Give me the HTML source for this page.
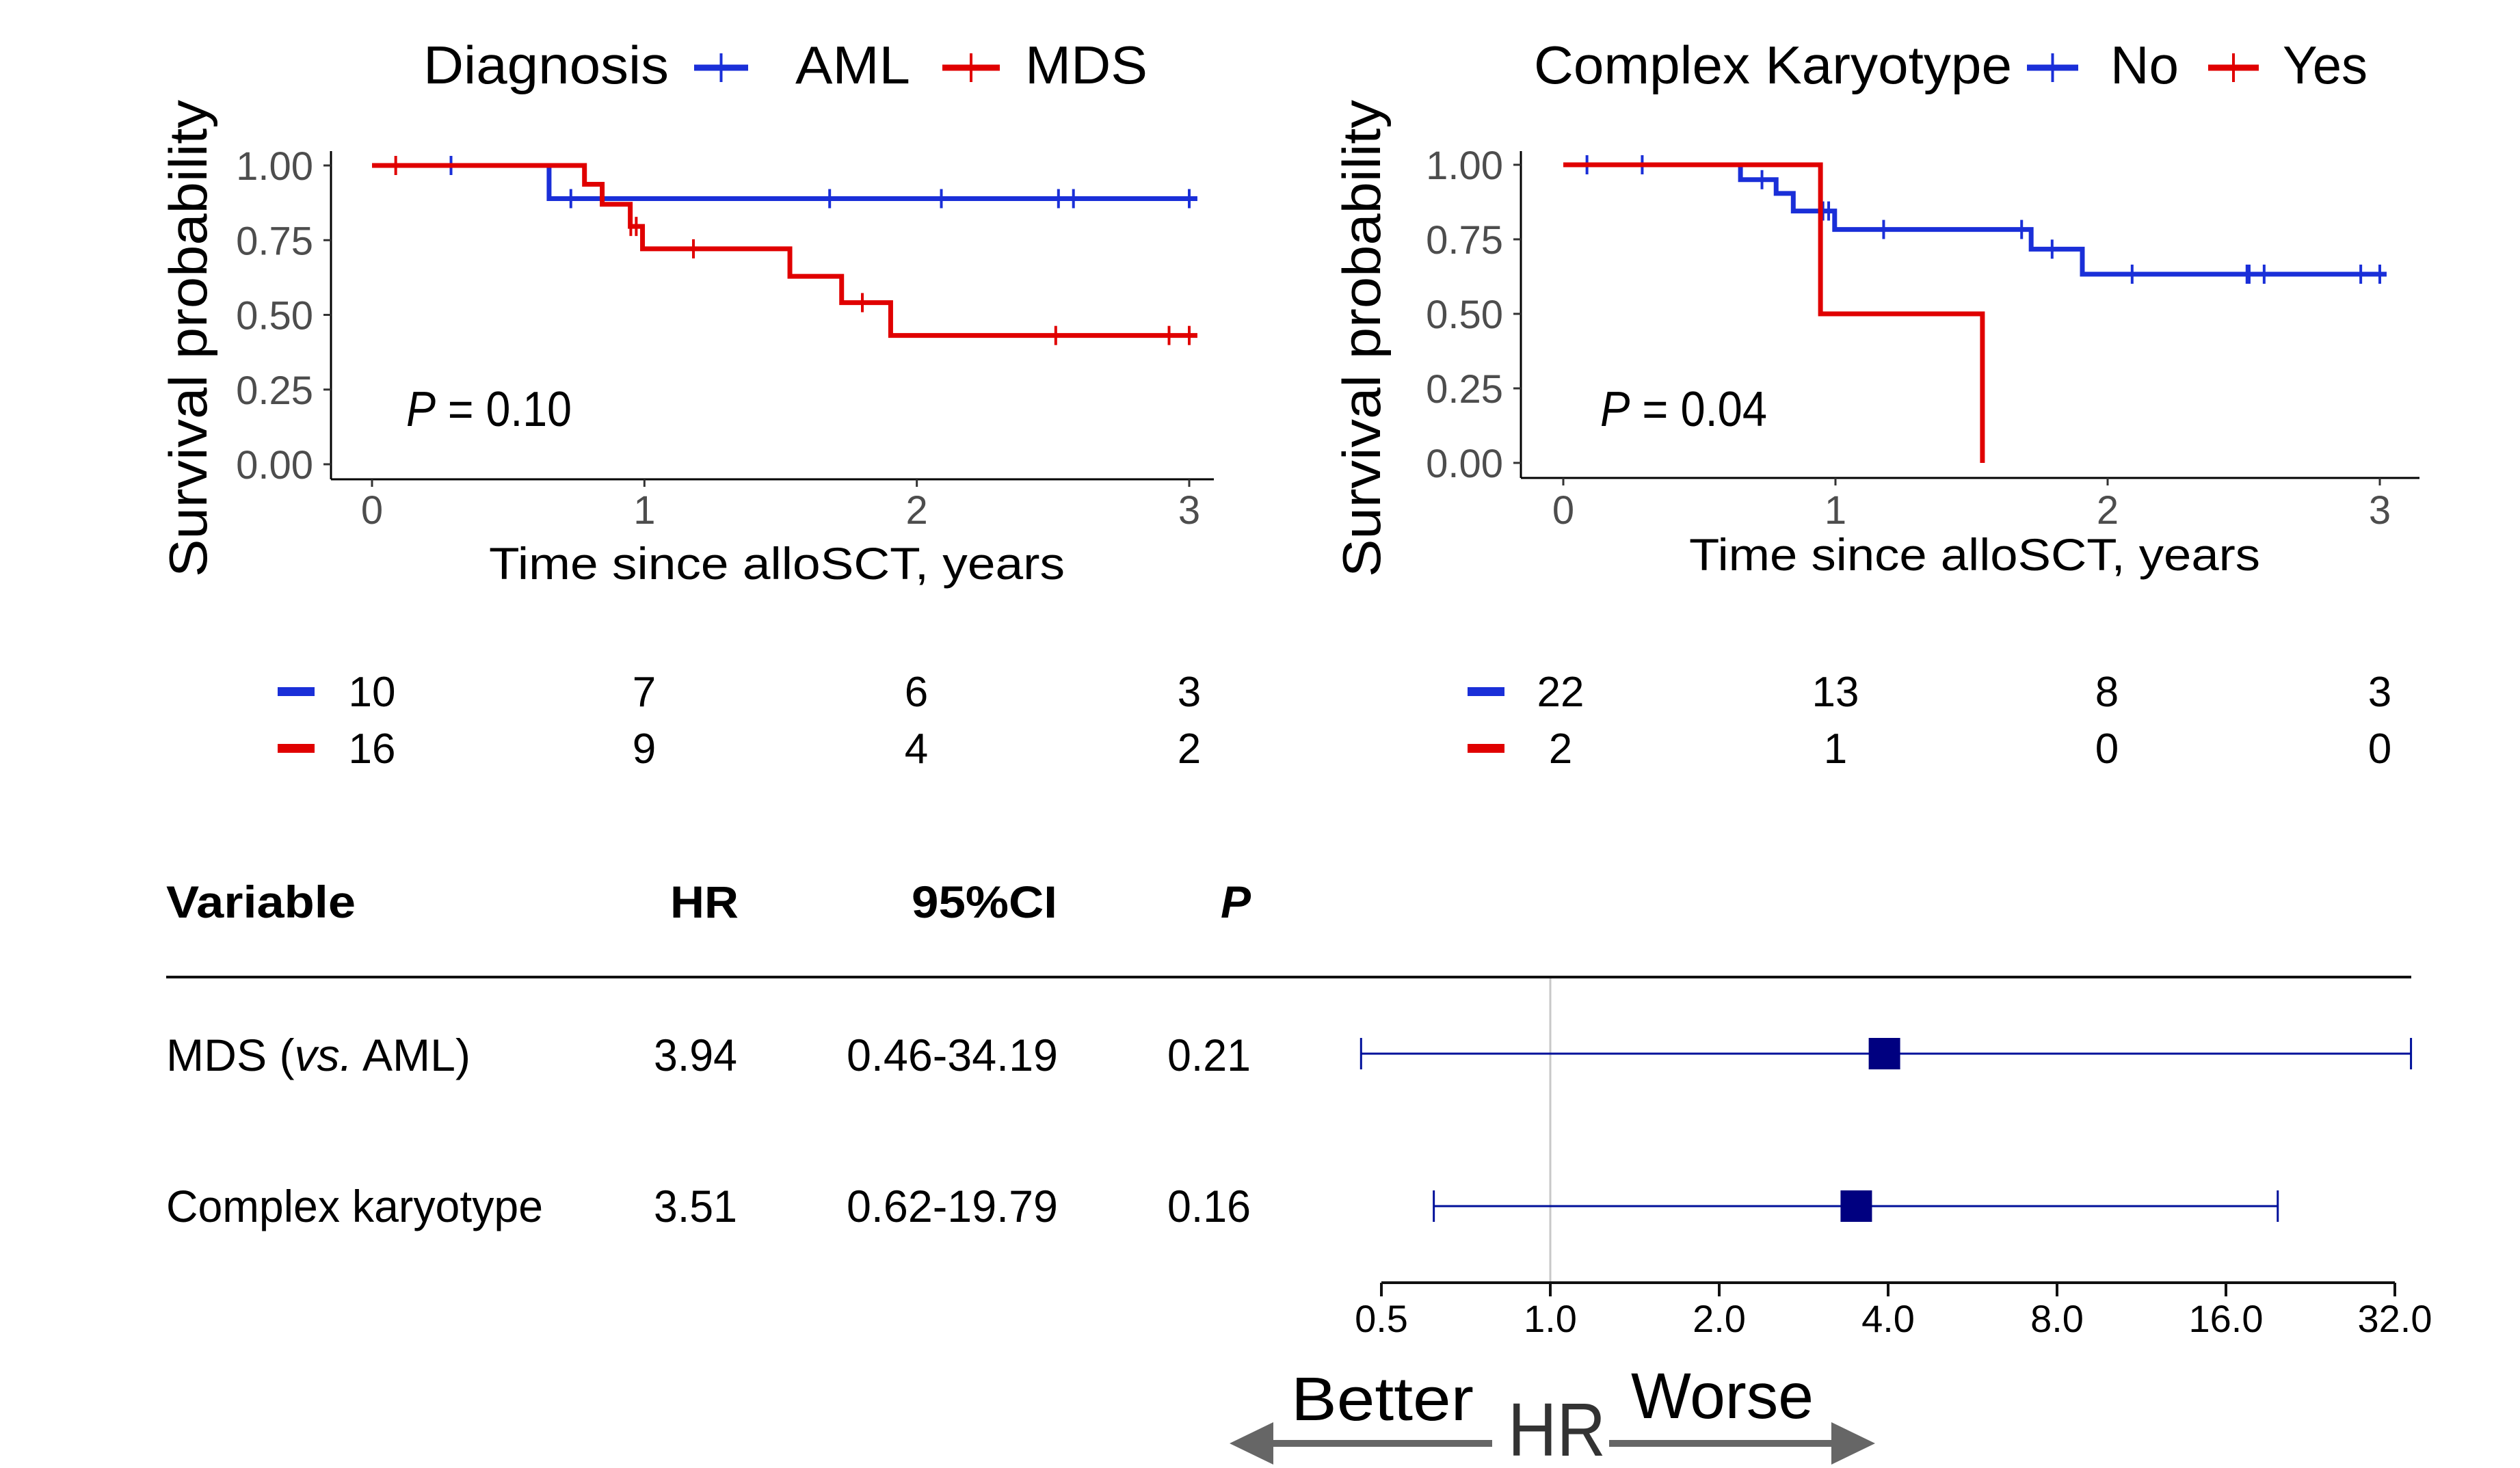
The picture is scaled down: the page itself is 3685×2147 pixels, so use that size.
<!DOCTYPE html>
<html><head><meta charset="utf-8"><style>
html,body{margin:0;padding:0;background:#fff;}
svg{display:block;font-family:"Liberation Sans",Arial,sans-serif;}
</style></head><body>
<svg id="fig" width="3685" height="2147" viewBox="0 0 3685 2147" xmlns="http://www.w3.org/2000/svg">
<rect width="3685" height="2147" fill="#fff"/>
<g id="km1"></g>
<g id="km2"></g>
<g id="tbl"></g>
<g id="forest"></g>
</svg>
<script>
// ---- KM plot 1 data (Diagnosis) ----
const amlSteps = [[0,1],[0.65,0.889]];
const amlCens = [0.29,0.73,1.68,2.09,2.52,2.575,3.0];
const amlEnd = 3.03;
const mdsSteps = [[0,1],[0.78,0.937],[0.845,0.87],[0.948,0.796],[0.993,0.721],[1.534,0.629],[1.724,0.541],[1.904,0.431]];
const mdsCens = [0.087,0.95,0.97,1.18,1.80,2.51,2.926,3.0];
const mdsEnd = 3.03;
const risk1Blue = [10,7,6,3];
const risk1Red = [16,9,4,2];
// ---- KM plot 2 data (Complex Karyotype) ----
const noSteps = [[0,1],[0.651,0.95],[0.782,0.904],[0.845,0.845],[0.997,0.783],[1.719,0.717],[1.907,0.633]];
const noCens = [0.087,0.29,0.73,0.954,0.975,1.177,1.684,1.796,2.09,2.512,2.52,2.575,2.93,3.0];
const noEnd = 3.025;
const yesSteps = [[0,1],[0.945,0.5],[1.54,0]];
const yesCens = [];
const yesEnd = 1.54;
const risk2Blue = [22,13,8,3];
const risk2Red = [2,1,0,0];
const xTicks = [0,1,2,3];
const yTicks = [0,0.25,0.5,0.75,1.0];
const yTickLabels = ["0.00","0.25","0.50","0.75","1.00"];
// ---- Forest data ----
const fVars = ["MDS (vs. AML)","Complex karyotype"];
const fHR = [3.94,3.51];
const fLo = [0.46,0.62];
const fHi = [34.19,19.79];
const fHRtxt = ["3.94","3.51"];
const fCItxt = ["0.46-34.19","0.62-19.79"];
const fPtxt = ["0.21","0.16"];
const fTicks = [0.5,1,2,4,8,16,32];
const fTickLabels = ["0.5","1.0","2.0","4.0","8.0","16.0","32.0"];

const NS="http://www.w3.org/2000/svg";
function mk(parent,tag,attrs,text){const e=document.createElementNS(NS,tag);for(const k in attrs)e.setAttribute(k,attrs[k]);if(text!==undefined)e.textContent=text;parent.appendChild(e);return e;}

const BLUE="#1a2fd8", RED="#e00000";

function km(g,cfg){
  const X=t=>cfg.x0+(cfg.x3-cfg.x0)*t/3;
  const Y=s=>cfg.y0+(cfg.y1-cfg.y0)*s;
  let a=mk(g,'line',{x1:cfg.ax,y1:cfg.axTop,x2:cfg.ax,y2:cfg.axY,stroke:'#000','stroke-width':3});
  
  a=mk(g,'line',{x1:cfg.ax,y1:cfg.axY,x2:cfg.axEnd,y2:cfg.axY,stroke:'#000','stroke-width':3});
  
  yTicks.forEach((v,i)=>{
    const tk=mk(g,'line',{x1:cfg.ax-11,y1:Y(v),x2:cfg.ax,y2:Y(v),stroke:'#333','stroke-width':3});
    
    const t=mk(g,'text',{x:cfg.ax-26,y:Y(v)+21,'font-size':58,fill:'#4d4d4d','text-anchor':'end'},yTickLabels[i]);
    
  });
  xTicks.forEach(v=>{
    const tk=mk(g,'line',{x1:X(v),y1:cfg.axY,x2:X(v),y2:cfg.axY+11,stroke:'#333','stroke-width':3});
    
    const t=mk(g,'text',{x:X(v),y:766,'font-size':58,fill:'#4d4d4d','text-anchor':'middle'},String(v));
    
  });
  cfg.series.forEach(s=>{
    let d='M'+X(s.steps[0][0])+','+Y(s.steps[0][1]);
    for(let i=1;i<s.steps.length;i++){d+=' H'+X(s.steps[i][0])+' V'+Y(s.steps[i][1]);}
    d+=' H'+X(s.end);
    const p=mk(g,'path',{d:d,fill:'none',stroke:s.color,'stroke-width':7});
    
    s.cens.forEach(c=>{
      let sv=s.steps[0][1];for(const st of s.steps){if(st[0]<=c)sv=st[1];}
      const m=mk(g,'line',{x1:X(c),y1:Y(sv)-14,x2:X(c),y2:Y(sv)+14,stroke:s.color,'stroke-width':4});
      
    });
    s.risk.forEach((n,i)=>{
      const t=mk(g,'text',{x:cfg.riskX[i],y:s.riskY+22,'font-size':62,fill:'#000','text-anchor':'middle'},String(n));
      
    });
    const r=mk(g,'rect',{x:cfg.dashX,y:s.riskY-6,width:54,height:13,fill:s.color});
    
  });
  let t=mk(g,'text',{x:cfg.ytX,y:495,'font-size':78,fill:'#000','text-anchor':'middle',transform:'rotate(-90 '+cfg.ytX+' 495)',textLength:698,lengthAdjust:'spacingAndGlyphs'},'Survival probability');
  
  t=mk(g,'text',{x:cfg.xtX,y:cfg.xtY,'font-size':66,fill:'#000',textLength:cfg.xtW,lengthAdjust:'spacingAndGlyphs'},'Time since alloSCT, years');
  
  t=mk(g,'text',{x:cfg.pX,y:623,'font-size':72,fill:'#000',textLength:cfg.pW,lengthAdjust:'spacingAndGlyphs'});
  
  mk(t,'tspan',{'font-style':'italic'},'P');mk(t,'tspan',{},' = '+cfg.pVal);
  cfg.legend.forEach(L=>{
    const lt=mk(g,'text',{x:L.x,y:122,'font-size':78,fill:'#000',textLength:L.w,lengthAdjust:'spacingAndGlyphs'},L.text);
    
    if(L.sym){
      const sl=mk(g,'line',{x1:L.sym[0],y1:99,x2:L.sym[1],y2:99,stroke:L.color,'stroke-width':9});
      
      const sc=(L.sym[0]+L.sym[1])/2;
      const sv=mk(g,'line',{x1:sc,y1:78,x2:sc,y2:120,stroke:L.color,'stroke-width':4});
      
    }
  });
}

km(document.getElementById('km1'),{x0:544,x3:1739,y0:679,y1:242,ax:484,axTop:221,axY:701,axEnd:1775,
  ytX:302,xtX:715,xtY:847,xtW:842,pX:594,pW:242,pVal:'0.10',dashX:406,riskX:[544,942,1340,1739],
  series:[{name:'aml',steps:amlSteps,cens:amlCens,end:amlEnd,color:BLUE,risk:risk1Blue,riskY:1011},
          {name:'mds',steps:mdsSteps,cens:mdsCens,end:mdsEnd,color:RED,risk:risk1Red,riskY:1094}],
  legend:[{x:619,w:359,text:'Diagnosis',name:'legend-title'},
          {x:1163,w:168,text:'AML',name:'legend-aml',sym:[1015,1094],color:BLUE},
          {x:1499,w:179,text:'MDS',name:'legend-mds',sym:[1378,1462],color:RED}]});
km(document.getElementById('km2'),{x0:2286,x3:3480,y0:677,y1:241,ax:2224,axTop:221,axY:699,axEnd:3538,
  ytX:2018,xtX:2470,xtY:834,xtW:835,pX:2340,pW:244,pVal:'0.04',dashX:2146,riskX:[2282,2684,3081,3480],
  series:[{name:'no',steps:noSteps,cens:noCens,end:noEnd,color:BLUE,risk:risk2Blue,riskY:1011},
          {name:'yes',steps:yesSteps,cens:yesCens,end:yesEnd,color:RED,risk:risk2Red,riskY:1094}],
  legend:[{x:2243,w:699,text:'Complex Karyotype',name:'legend-title'},
          {x:3086,w:100,text:'No',name:'legend-no',sym:[2964,3039],color:BLUE},
          {x:3338,w:124,text:'Yes',name:'legend-yes',sym:[3229,3303],color:RED}]});

// ---- table ----
const tb=document.getElementById('tbl');
let e;
e=mk(tb,'text',{x:243,y:1342,'font-size':66,'font-weight':'bold',textLength:277,lengthAdjust:'spacingAndGlyphs'},'Variable');

e=mk(tb,'text',{x:980,y:1342,'font-size':66,'font-weight':'bold',textLength:100,lengthAdjust:'spacingAndGlyphs'},'HR');

e=mk(tb,'text',{x:1333,y:1342,'font-size':66,'font-weight':'bold',textLength:213,lengthAdjust:'spacingAndGlyphs'},'95%CI');

e=mk(tb,'text',{x:1829,y:1342,'font-size':66,'font-weight':'bold','font-style':'italic','text-anchor':'end'},'P');

e=mk(tb,'line',{x1:243,y1:1429,x2:3526,y2:1429,stroke:'#111','stroke-width':4});

const rowBase=[1566,1787];
const varW=[445,551];
fVars.forEach((v,i)=>{
  let t=mk(tb,'text',{x:243,y:rowBase[i],'font-size':66,textLength:varW[i],lengthAdjust:'spacingAndGlyphs'});
  
  if(v.indexOf('(vs.')>=0){mk(t,'tspan',{},'MDS (');mk(t,'tspan',{'font-style':'italic'},'vs.');mk(t,'tspan',{},' AML)');}
  else t.textContent=v;
  t=mk(tb,'text',{x:956,y:rowBase[i],'font-size':66,textLength:122,lengthAdjust:'spacingAndGlyphs'},fHRtxt[i]);
  
  t=mk(tb,'text',{x:1238,y:rowBase[i],'font-size':66,textLength:309,lengthAdjust:'spacingAndGlyphs'},fCItxt[i]);
  
  t=mk(tb,'text',{x:1707,y:rowBase[i],'font-size':66,textLength:122,lengthAdjust:'spacingAndGlyphs'},fPtxt[i]);
  
});

// ---- forest ----
const fg=document.getElementById('forest');
const FX=v=>2267+247*Math.log2(v);
const rowY=[1541,1764];
e=mk(fg,'line',{x1:FX(1),y1:1431,x2:FX(1),y2:1876,stroke:'#c8c8c8','stroke-width':3});

e=mk(fg,'line',{x1:FX(fTicks[0]),y1:1876,x2:FX(fTicks[fTicks.length-1]),y2:1876,stroke:'#111','stroke-width':4});

fTicks.forEach((v,i)=>{
  let t=mk(fg,'line',{x1:FX(v),y1:1876,x2:FX(v),y2:1896,stroke:'#111','stroke-width':4});
  
  t=mk(fg,'text',{x:FX(v),y:1948,'font-size':56,'text-anchor':'middle',fill:'#000'},fTickLabels[i]);
  
});
fHR.forEach((h,i)=>{
  const y=rowY[i];
  let t=mk(fg,'line',{x1:FX(fLo[i]),y1:y,x2:FX(fHi[i]),y2:y,stroke:'#00109a','stroke-width':3});
  
  [fLo[i],fHi[i]].forEach(c=>{
    const w=mk(fg,'line',{x1:FX(c),y1:y-23,x2:FX(c),y2:y+23,stroke:'#00109a','stroke-width':3});
    
  });
  t=mk(fg,'rect',{x:FX(h)-23,y:y-23,width:46,height:46,fill:'#000080'});
  
});
e=mk(fg,'path',{d:'M1798,2111 L1862,2080 L1862,2106 L2182,2106 L2182,2116 L1862,2116 L1862,2142 Z',fill:'#666'});

e=mk(fg,'path',{d:'M2742,2111 L2678,2080 L2678,2106 L2353,2106 L2353,2116 L2678,2116 L2678,2142 Z',fill:'#666'});

e=mk(fg,'text',{x:1888,y:2077,'font-size':90,textLength:267,lengthAdjust:'spacingAndGlyphs'},'Better');

e=mk(fg,'text',{x:2205,y:2129,'font-size':110,fill:'#333',textLength:143,lengthAdjust:'spacingAndGlyphs'},'HR');

e=mk(fg,'text',{x:2385,y:2074,'font-size':95,textLength:267,lengthAdjust:'spacingAndGlyphs'},'Worse');

</script>
</body></html>
